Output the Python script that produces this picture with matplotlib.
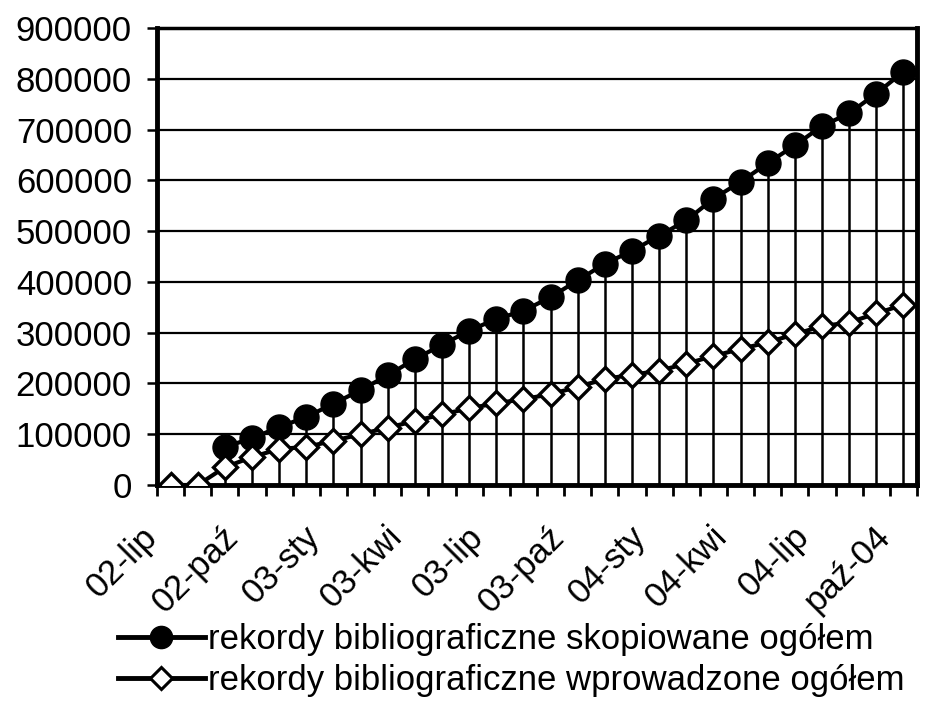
import numpy as np
import matplotlib
matplotlib.use("Agg")
import matplotlib.pyplot as plt
import matplotlib.transforms as mtransforms
from matplotlib.lines import Line2D

plt.rcParams['font.family'] = ['Liberation Sans', 'DejaVu Sans']

# months Jul 2002 .. Oct 2004
months = ['02-lip', '02-sie', '02-wrz', '02-paź', '02-lis', '02-gru',
          '03-sty', '03-lut', '03-mar', '03-kwi', '03-maj', '03-cze',
          '03-lip', '03-sie', '03-wrz', '03-paź', '03-lis', '03-gru',
          '04-sty', '04-lut', '04-mar', '04-kwi', '04-maj', '04-cze',
          '04-lip', '04-sie', '04-wrz', 'paź-04']
shown_labels = ['02-lip', '02-paź', '03-sty', '03-kwi', '03-lip', '03-paź',
                '04-sty', '04-kwi', '04-lip', 'paź-04']

copied = [np.nan, np.nan, 75000, 92000, 114000, 134000, 160000, 187000,
          216000, 248000, 276000, 304000, 327000, 343000, 370000, 403000,
          436000, 461000, 491000, 521000, 564000, 597000, 634000, 669000,
          707000, 732000, 771000, 814000]
entered = [0, 0, 35000, 55000, 71000, 75000, 87000, 100000, 113000, 126000,
           139000, 151000, 161000, 169000, 179000, 193000, 209000, 217000,
           225000, 239000, 254000, 268000, 281000, 297000, 313000, 320000,
           338000, 355000]

label_copied = 'rekordy bibliograficzne skopiowane ogółem'
label_entered = 'rekordy bibliograficzne wprowadzone ogółem'

fig = plt.figure(figsize=(9.31, 7.01), dpi=100)
ax = fig.add_axes([0.1686, 0.3081, 0.8164, 0.6519])

x = np.arange(len(months))
top = np.fmax(np.array(copied, dtype=float), np.array(entered, dtype=float))

# grid
ax.set_yticks(np.arange(0, 900001, 100000))
ax.yaxis.grid(True, color='black', linewidth=1.6, zorder=0)
ax.set_axisbelow(True)

# drop lines
mask = top > 0
ax.vlines(x[mask], 0, top[mask], color='black', linewidth=1.8, zorder=2)

ax.plot(x, copied, color='black', linewidth=3, marker='o', markersize=18,
        markerfacecolor='black', markeredgecolor='black', zorder=3)
ax.plot(x, entered, color='black', linewidth=3, marker='D', markersize=12.5,
        markerfacecolor='white', markeredgecolor='black', markeredgewidth=2.4,
        zorder=4)

# axes styling
for side in ['left', 'right', 'bottom']:
    ax.spines[side].set_linewidth(3.5)
ax.spines['top'].set_linewidth(2.5)

ax.yaxis.set_major_formatter(matplotlib.ticker.FuncFormatter(lambda v, p: f'{int(v)}'))
ax.tick_params(axis='y', labelsize=25, length=7, width=1.8, pad=11, direction='out')

# category boundaries carry the tick marks; labels are placed as text
ax.set_xticks(np.arange(-0.5, len(months), 1.0))
ax.tick_params(axis='x', length=8, width=2.0, direction='out', labelbottom=False)
ax.set_xlim(-0.5, len(months) - 0.5)
ax.set_ylim(0, 900000)

# labels sit a bit left of / below their category (as in the original)
shift = mtransforms.ScaledTranslation(-0.30, -0.35, fig.dpi_scale_trans)
for lab in shown_labels:
    ax.text(months.index(lab), 0, lab, transform=ax.get_xaxis_transform() + shift,
            rotation=45, rotation_mode='anchor', ha='right', va='top',
            fontsize=25, clip_on=False)

handles = [
    Line2D([0], [0], color='black', linewidth=3.5, marker='o', markersize=16,
           markerfacecolor='black'),
    Line2D([0], [0], color='black', linewidth=3.5, marker='D', markersize=11,
           markerfacecolor='white', markeredgewidth=2.2),
]
fig.legend(handles, [label_copied, label_entered], loc='center left',
           bbox_to_anchor=(118 / 931, 1 - 660 / 701), frameon=False, fontsize=25,
           handlelength=2.5, handletextpad=0.08, labelspacing=0.22,
           borderaxespad=0, borderpad=0)

fig.savefig('out.png', dpi=100)
